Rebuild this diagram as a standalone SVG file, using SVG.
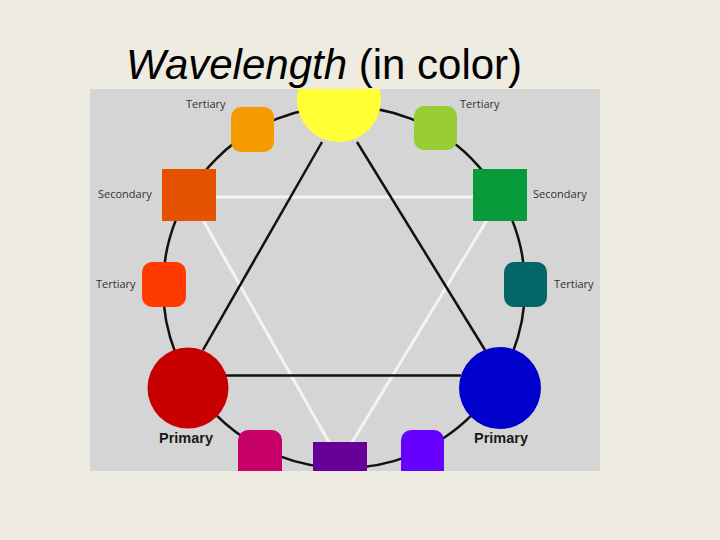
<svg xmlns="http://www.w3.org/2000/svg" width="720" height="540" viewBox="0 0 720 540">
  <style>
    .lbl { font-family: "Open Sans", "DejaVu Sans", sans-serif; font-size: 11px; fill: #333333; }
    .prim { font-family: "Liberation Sans", Arial, sans-serif; font-size: 14.5px; font-weight: bold; fill: #1a1a1a; }
    .blk { stroke: #111111; stroke-width: 2.5; fill: none; }
    .wht { stroke: #f4f4f4; stroke-width: 3; fill: none; }
  </style>
  <defs>
    <clipPath id="panelClip">
      <rect x="90" y="89" width="510" height="382"/>
    </clipPath>
  </defs>
  <rect x="0" y="0" width="720" height="540" fill="#EEEBE1"/>
  <text x="126" y="79" font-family="Liberation Sans, Arial, sans-serif" font-size="42" fill="#000000"><tspan font-style="italic">Wavelength</tspan> (in color)</text>
  <rect id="panel" x="90" y="89" width="510" height="382" fill="#D5D5D5"/>
  <g clip-path="url(#panelClip)">
    <g id="connectors">
      <circle class="blk" cx="344" cy="287" r="181"/>
      <line class="wht" x1="216" y1="197" x2="473" y2="197"/>
      <line class="wht" x1="203" y1="220" x2="330" y2="444"/>
      <line class="wht" x1="487" y1="220" x2="351" y2="444"/>
      <line class="blk" x1="322" y1="142" x2="203" y2="350"/>
      <line class="blk" x1="357" y1="142" x2="485" y2="350"/>
      <line class="blk" x1="226" y1="375.5" x2="461" y2="375.5"/>
    </g>
    <g id="yellow"><circle cx="339" cy="100" r="42" fill="#FFFF33"/></g>
    <g id="tert-orange"><rect x="231" y="107" width="43" height="45" rx="10" fill="#F59B00"/></g>
    <g id="tert-yellowgreen"><rect x="414" y="106" width="43" height="44" rx="10" fill="#99CC33"/></g>
    <g id="sec-orange"><rect x="162" y="169" width="54" height="52" fill="#E55300"/></g>
    <g id="sec-green"><rect x="473" y="169" width="54" height="52" fill="#079A3A"/></g>
    <g id="tert-redorange"><rect x="142" y="262" width="44" height="45" rx="10" fill="#FF3A00"/></g>
    <g id="tert-teal"><rect x="504" y="262" width="43" height="45" rx="10" fill="#046669"/></g>
    <g id="red"><circle cx="188" cy="388" r="40.5" fill="#C80000"/></g>
    <g id="blue"><circle cx="500" cy="388" r="41" fill="#0000CC"/></g>
    <g id="tert-magenta"><rect x="238" y="430" width="44" height="55" rx="10" fill="#C8006A"/></g>
    <g id="sec-purple"><rect x="313" y="442" width="54" height="40" fill="#660099"/></g>
    <g id="tert-violet"><rect x="401" y="430" width="43" height="55" rx="10" fill="#6600FF"/></g>
  </g>
  <g id="labels">
    <text class="lbl" x="186" y="108">Tertiary</text>
    <text class="lbl" x="460" y="108">Tertiary</text>
    <text class="lbl" x="98" y="198">Secondary</text>
    <text class="lbl" x="533" y="198">Secondary</text>
    <text class="lbl" x="96" y="288">Tertiary</text>
    <text class="lbl" x="554" y="288">Tertiary</text>
    <text class="prim" x="159" y="443">Primary</text>
    <text class="prim" x="474" y="443">Primary</text>
  </g>
</svg>
